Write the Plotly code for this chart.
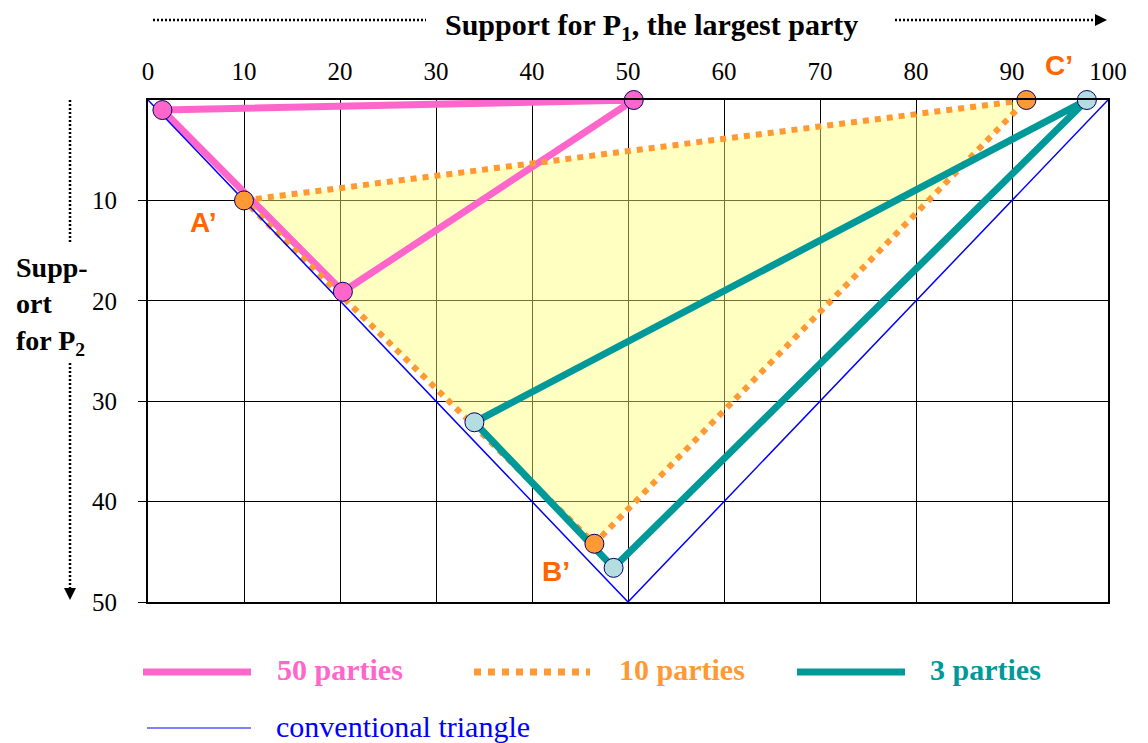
import plotly.graph_objects as go

# ---- data (support for P1 = x, support for P2 = y) ----
p50_x = [1.5, 50.6, 20.3, 1.5]
p50_y = [1.0, 0.0, 19.1, 1.0]
p10_x = [10.0, 91.5, 46.5, 10.0]
p10_y = [10.0, 0.0, 44.2, 10.0]
p3_x = [97.8, 34.0, 48.5, 97.8]
p3_y = [0.0, 32.1, 46.6, 0.0]
conv_x = [0, 50, 100]
conv_y = [0, 50, 0]
vertex_labels = ["A\u2019", "C\u2019", "B\u2019"]
x_ticks = list(range(0, 101, 10))
y_ticks = list(range(0, 51, 10))

OFF = 8  # page body margin
W, H = 1140, 735
L, R, T, B = 140, 40, 92, 141
PW, PH = W - L - R, H - T - B


def px(x):
    return (x - OFF - L) / PW


def py(y):
    return (H - B - (y - OFF)) / PH


SERIF = "Liberation Serif, Times New Roman, serif"
PINK = "#FF66CC"
ORANGE = "#FF9933"
TEAL = "#009999"
LBLUE = "#B3DDE0"
NAVY = "#000066"

fig = go.Figure()

# yellow filled 10-party triangle
fig.add_trace(go.Scatter(x=p10_x, y=p10_y, mode="lines", fill="toself",
                         fillcolor="rgba(255,255,120,0.45)",
                         line=dict(width=0), hoverinfo="skip", showlegend=False))
fig.add_trace(go.Scatter(x=p50_x, y=p50_y, mode="lines", cliponaxis=False,
                         line=dict(color=PINK, width=7), showlegend=False))
fig.add_trace(go.Scatter(x=p10_x, y=p10_y, mode="lines", cliponaxis=False,
                         line=dict(color=ORANGE, width=6, dash="dot"), showlegend=False))
fig.add_trace(go.Scatter(x=p3_x, y=p3_y, mode="lines", cliponaxis=False,
                         line=dict(color=TEAL, width=7), showlegend=False))
fig.add_trace(go.Scatter(x=conv_x, y=conv_y, mode="lines", cliponaxis=False,
                         line=dict(color="#0000FF", width=1.5), showlegend=False))
# markers
fig.add_trace(go.Scatter(x=p50_x[:3], y=p50_y[:3], mode="markers", cliponaxis=False,
                         marker=dict(size=19, color=PINK, line=dict(color=NAVY, width=1)),
                         showlegend=False))
fig.add_trace(go.Scatter(x=p10_x[:3], y=p10_y[:3], mode="markers", cliponaxis=False,
                         marker=dict(size=19, color=ORANGE, line=dict(color=NAVY, width=1)),
                         showlegend=False))
fig.add_trace(go.Scatter(x=p3_x[:3], y=p3_y[:3], mode="markers", cliponaxis=False,
                         marker=dict(size=19, color=LBLUE, line=dict(color=NAVY, width=1)),
                         showlegend=False))

shapes = []
annotations = []

# vertex labels A', C', B'
label_pos = [(203, 222), (1059, 65), (556, 571)]
for txt, (lx, ly) in zip(vertex_labels, label_pos):
    annotations.append(dict(x=px(lx), y=py(ly), xref="paper", yref="paper",
                            xanchor="center", yanchor="middle",
                            text="<b>" + txt + "</b>", showarrow=False,
                            font=dict(family="Liberation Sans, Arial", size=28, color="#FF6600")))

# top title and dotted arrows
annotations.append(dict(x=px(651), y=py(27), xref="paper", yref="paper",
                        xanchor="center", yanchor="middle",
                        text="<b>Support for P<sub>1</sub>, the largest party</b>",
                        showarrow=False, font=dict(family=SERIF, size=30, color="black")))
shapes.append(dict(type="line", xref="paper", yref="paper", x0=px(153), x1=px(426),
                   y0=py(20), y1=py(20), line=dict(color="black", width=2.5, dash="2px,2px")))
shapes.append(dict(type="line", xref="paper", yref="paper", x0=px(895), x1=px(1095),
                   y0=py(20), y1=py(20), line=dict(color="black", width=2.5, dash="2px,2px")))
annotations.append(dict(x=px(1107), y=py(20), xref="paper", yref="paper",
                        ax=-12, ay=0, axref="pixel", ayref="pixel",
                        text="", showarrow=True, arrowhead=2, arrowsize=1.2,
                        arrowwidth=2, arrowcolor="black"))

# left label and dotted arrows
annotations.append(dict(x=px(14), y=py(306), xref="paper", yref="paper",
                        text="<b>Supp-<br>ort<br>for P<sub>2</sub></b>", align="left",
                        xanchor="left", yanchor="middle", showarrow=False,
                        font=dict(family=SERIF, size=28, color="black")))
shapes.append(dict(type="line", xref="paper", yref="paper", x0=px(70), x1=px(70),
                   y0=py(100), y1=py(242), line=dict(color="black", width=2.5, dash="2px,2px")))
shapes.append(dict(type="line", xref="paper", yref="paper", x0=px(70), x1=px(70),
                   y0=py(363), y1=py(588), line=dict(color="black", width=2.5, dash="2px,2px")))
annotations.append(dict(x=px(70), y=py(600), xref="paper", yref="paper",
                        ax=0, ay=-13, axref="pixel", ayref="pixel",
                        text="", showarrow=True, arrowhead=2, arrowsize=1.2,
                        arrowwidth=2, arrowcolor="black"))

# custom legend
leg = [
    (143, 251, 672, PINK, 7, "solid", "<b>50 parties</b>", 275, PINK),
    (474, 590, 672, ORANGE, 7, "dot", "<b>10 parties</b>", 617, ORANGE),
    (797, 905, 672, TEAL, 7, "solid", "<b>3 parties</b>", 928, TEAL),
    (147, 251, 728, "#0000FF", 1.2, "solid", "conventional triangle", 274, "#0000FF"),
]
for x0, x1, yy, col, w, dash, txt, tx, tcol in leg:
    shapes.append(dict(type="line", xref="paper", yref="paper", x0=px(x0), x1=px(x1),
                       y0=py(yy), y1=py(yy), line=dict(color=col, width=w, dash=dash)))
    annotations.append(dict(x=px(tx), y=py(yy - 2), xref="paper", yref="paper", text=txt,
                            xanchor="left", yanchor="middle", showarrow=False,
                            font=dict(family=SERIF, size=30, color=tcol)))

fig.update_layout(
    width=W, height=H,
    margin=dict(l=L, r=R, t=T, b=B),
    paper_bgcolor="white", plot_bgcolor="white",
    shapes=shapes, annotations=annotations,
    xaxis=dict(range=[0, 100], side="top", tickvals=x_ticks, showgrid=True,
               gridcolor="black", gridwidth=1, zeroline=False, showline=True,
               linecolor="black", linewidth=2, mirror=True, ticks="",
               ticklabelstandoff=8,
               tickfont=dict(family=SERIF, size=25, color="black")),
    yaxis=dict(range=[50, 0], tickvals=y_ticks[1:], showgrid=True,
               gridcolor="black", gridwidth=1, zeroline=False, showline=True,
               linecolor="black", linewidth=2, mirror=True, ticks="outside",
               ticklen=8, tickcolor="black", ticklabelstandoff=16,
               tickfont=dict(family=SERIF, size=25, color="black")),
)

fig.write_html("out.html")
